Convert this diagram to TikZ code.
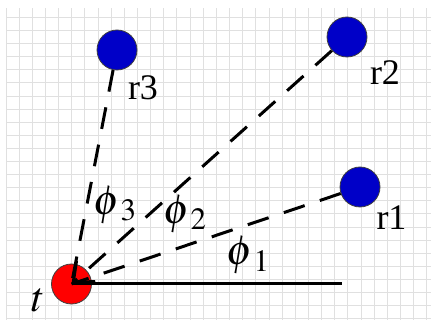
\documentclass[tikz,border=0pt]{standalone}
\usepackage{mathptmx}
\usepackage{fontspec}
\setmainfont{Liberation Serif}
\usetikzlibrary{arrows.meta}
\definecolor{rxblue}{RGB}{0,0,200}
\definecolor{gridgray}{RGB}{224,224,224}
\newcommand{\lbl}{\fontsize{36}{40}\selectfont}
\newcommand{\ang}{\fontsize{42}{48}\selectfont}

\begin{document}
\begin{tikzpicture}[x=1pt,y=-1pt,
  gridline/.style={gridgray,line width=1pt},
  station/.style={circle,draw=black!75,line width=0.8pt,minimum size=40pt,inner sep=0pt},
  ray/.style={line width=3pt,dash pattern=on 22pt off 16pt},
  base/.style={line width=3pt}]

\useasboundingbox (0,0) rectangle (431,320);

% grid
\foreach \i in {0,...,32}
  \draw[gridline] (6+13.15*\i,8)--(6+13.15*\i,320);
\foreach \j in {0,...,23}
  \draw[gridline] (6,17.5+13.1*\j)--(431,17.5+13.1*\j);

\node[station,fill=red] (t) at (71.5,284) {};

\node[station,fill=rxblue] (r1) at (360,187) {};
\node[station,fill=rxblue] (r2) at (347,37) {};
\node[station,fill=rxblue] (r3) at (117,50) {};

\coordinate (end) at (342,284);

\draw[base] (t.center)--(end);

\draw[ray] (r1)--(t.center);
\draw[ray,-{Straight Barb[length=17pt,width=28pt,line width=3pt]}] (r2)--(t.center);
\draw[ray] (r3)--(t.center);

\node (lt) at (38.5,300) {\ang$t$};
\node (lr1) at (391.5,217.5) {\lbl r1};
\node (lr2) at (385,72.5) {\lbl r2};
\node (lr3) at (143,88) {\lbl r3};

\node (p1) at (248,255.5) {\ang$\phi_{\mkern3mu 1}$};
\node (p2) at (185,214) {\ang$\phi_{\mkern3mu 2}$};
\node (p3) at (115,205) {\ang$\phi_{\mkern3mu 3}$};

\end{tikzpicture}
\end{document}
